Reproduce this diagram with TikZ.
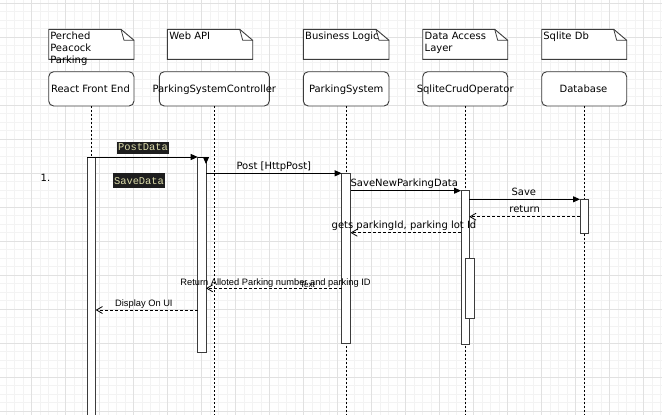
\documentclass[tikz,border=0pt]{standalone}
\usepackage{fontspec}
\setmainfont{DejaVu Sans}
\newfontfamily\arialfont{Liberation Sans}
\newfontfamily\codefont{Liberation Mono}
\usetikzlibrary{arrows.meta}

\definecolor{gridmajor}{HTML}{E1E1E1}
\definecolor{gridminor}{HTML}{F3F3F3}
\definecolor{framecol}{HTML}{3C3C3C}
\definecolor{codebg}{HTML}{1E1E1E}
\definecolor{codefg}{HTML}{DCDCAA}

\tikzset{
  lbl/.style={inner sep=0pt, outer sep=0pt, anchor=base, font=\fontsize{10}{12}\selectfont},
  notetext/.style={lbl, anchor=base west},
  uilbl/.style={inner sep=0pt, outer sep=0pt, anchor=base, font=\arialfont\fontsize{9.3}{11}\selectfont},
  codelbl/.style={inner xsep=1.3pt, inner ysep=0pt, outer sep=0pt, anchor=base, fill=codebg,
                  text=codefg, font=\codefont\fontsize{10.4}{12}\selectfont},
  headbox/.style={draw=framecol, line width=0.9pt, rounded corners=5pt, fill=white,
                  minimum height=34.3pt, inner sep=0pt, outer sep=0pt},
  noteframe/.style={minimum height=30pt, inner sep=0pt, outer sep=0pt},
  notepath/.style={draw=framecol, line width=0.9pt, fill=white},
  actbar/.style={draw=framecol, line width=0.9pt, fill=white, inner sep=0pt, outer sep=0pt, anchor=north},
  lifeline/.style={line width=0.9pt, dash pattern=on 2pt off 2pt},
  callmsg/.style={line width=0.9pt, -{Triangle[length=7pt,width=6pt]}},
  retmsg/.style={line width=0.8pt, dash pattern=on 3pt off 2pt, -{Straight Barb[length=6pt,width=7pt]}},
}

% dog-eared note outline around a named frame node
\newcommand{\dognote}[1]{%
  \draw[notepath] (#1.north west) -- ([xshift=-13pt]#1.north east)
    -- ([yshift=-11pt]#1.north east) -- (#1.south east) -- (#1.south west) -- cycle;
  \draw[framecol, line width=0.8pt] ([xshift=-13pt]#1.north east)
    -- ([xshift=-10pt,yshift=-11pt]#1.north east) -- ([yshift=-11pt]#1.north east);
}

\begin{document}
\begin{tikzpicture}[x=1pt, y=-1pt]
\useasboundingbox (0,0) rectangle (662,415);
\fill[white] (0,0) rectangle (662,415);

% background grid
\foreach \i in {0,...,80} {
  \draw[gridminor, line width=0.8pt] ({-2.3+8.5*\i},0) -- ({-2.3+8.5*\i},415);
}
\foreach \j in {0,...,49} {
  \draw[gridminor, line width=0.8pt] (0,{3+8.5*\j}) -- (662,{3+8.5*\j});
}
\foreach \i in {0,...,19} {
  \draw[gridmajor, line width=0.9pt] ({-2.3+34*\i},0) -- ({-2.3+34*\i},415);
}
\foreach \j in {0,...,12} {
  \draw[gridmajor, line width=0.9pt] (0,{3+34*\j}) -- (662,{3+34*\j});
}

\coordinate (bottom) at (0,418);

% lifeline heads
\node[headbox, minimum width=85.3pt] (hR) at (91.35,88.85) {};
\node[headbox, minimum width=110pt]  (hC) at (214.3,88.85) {};
\node[headbox, minimum width=85.7pt] (hP) at (346.15,88.85) {};
\node[headbox, minimum width=85pt]   (hS) at (465.2,88.85) {};
\node[headbox, minimum width=85pt]   (hD) at (584.2,88.85) {};

% lifelines
\foreach \h in {hR,hC,hP,hS,hD} {
  \draw[lifeline] (\h.south) -- (\h.south |- bottom);
}

% head labels
\node[lbl] (tR) at (90.5,92.3) {React Front End};
\node[lbl] (tC) at (214.3,92.3) {ParkingSystemController};
\node[lbl] (tP) at (346.2,92.3) {ParkingSystem};
\node[lbl] (tS) at (465.2,92.3) {SqliteCrudOperator};
\node[lbl] (tD) at (583.5,92.3) {Database};

% notes
\node[noteframe, minimum width=85.3pt] (n1) at (91.35,44.3) {};
\node[noteframe, minimum width=85.4pt] (n2) at (210,44.3) {};
\node[noteframe, minimum width=85.7pt] (n3) at (346.15,44.3) {};
\node[noteframe, minimum width=85pt]   (n4) at (465.2,44.3) {};
\node[noteframe, minimum width=85pt]   (n5) at (584.2,44.3) {};
\dognote{n1}\dognote{n2}\dognote{n3}\dognote{n4}\dognote{n5}

\node[notetext] (n1a) at (50.3,39) {Perched};
\node[notetext] (n1b) at (50.3,51) {Peacock};
\node[notetext] (n1c) at (50.3,63) {Parking};
\node[notetext] (n2a) at (169.3,39) {Web API};
\node[notetext] (n3a) at (305.2,39) {Business Logic};
\node[notetext] (n4a) at (424.7,39) {Data Access};
\node[notetext] (n4b) at (424.7,51) {Layer};
\node[notetext] (n5a) at (543.3,39) {Sqlite Db};

% activation bars
\node[actbar, minimum width=8.4pt, minimum height=265pt]   (aR) at (91.5,157) {};
\node[actbar, minimum width=8.3pt, minimum height=195pt]   (aC) at (201.85,157) {};
\node[actbar, minimum width=8.8pt, minimum height=170.2pt] (aP) at (346.1,173.3) {};
\node[actbar, minimum width=8.3pt, minimum height=153.3pt] (aS) at (465.15,190.7) {};
\node[actbar, minimum width=8.7pt, minimum height=60pt]    (aS2) at (469.65,258.3) {};
\node[actbar, minimum width=8.3pt, minimum height=34pt]    (aD) at (584.15,199.3) {};

% message levels
\coordinate (m2) at (0,173.3);
\coordinate (m3) at (0,190.7);
\coordinate (m4) at (0,199.3);
\coordinate (m5) at (0,216.7);
\coordinate (m6) at (0,232.7);
\coordinate (m7) at (0,288.3);
\coordinate (m8) at (0,310);

% calls
\draw[callmsg] (aR.north west) -- (aC.north west);
\draw[callmsg] (aC.north west) -- (aC.north east) -- ++(0,7);
\draw[callmsg] (aC.east |- m2) -- (aP.west |- m2);
\draw[callmsg] (aP.east |- m3) -- (aS.west |- m3);
\draw[callmsg] (aS.east |- m4) -- (aD.west |- m4);

% returns
\draw[retmsg] (aD.west |- m5) -- (aS.east |- m5);
\draw[retmsg] (aS.west |- m6) -- (aP.east |- m6);
\draw[retmsg] (aP.west |- m7) -- (aC.east |- m7);
\draw[retmsg] (aC.west |- m8) -- (aR.east |- m8);

% message labels
\node[codelbl, text height=8.5pt, text depth=3.5pt] (l1) at (143,150.7) {PostData};
\node[codelbl, text height=11pt, text depth=3.4pt] (l1b) at (139,184.3) {SaveData};
\node[lbl] (num) at (45.5,181.7) {1.};
\node[lbl] (l2) at (273.8,169) {Post [HttpPost]};
\node[lbl] (l3) at (404.3,186.7) {SaveNewParkingData};
\node[lbl] (l4) at (523.8,195) {Save};
\node[lbl] (l5) at (524.7,212.7) {return};
\node[lbl] (l6) at (404,228.3) {gets parkingId, parking lot Id};
\node[uilbl, font=\arialfont\fontsize{8}{10}\selectfont] (l7t) at (307.5,287) {Text};
\node[uilbl] (l7) at (275.5,285.7) {Return Alloted Parking number and parking ID};
\node[uilbl] (l8) at (143.9,306) {Display On UI};
\end{tikzpicture}
\end{document}
